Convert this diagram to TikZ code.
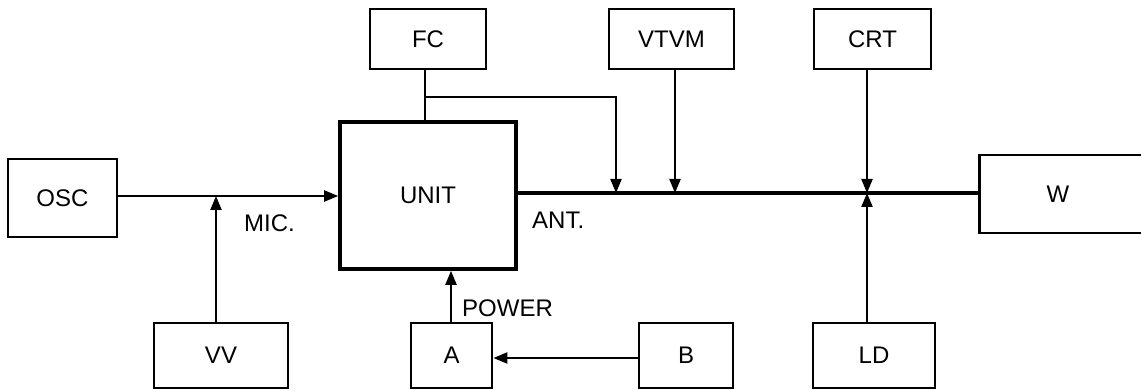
\documentclass[tikz,border=0pt]{standalone}
\usepackage{fontspec}
\setmainfont{Liberation Sans}
\usetikzlibrary{arrows.meta}
\begin{document}
\begin{tikzpicture}[x=1pt,y=-1pt,
  txt/.style={font=\fontsize{24}{28}\selectfont},
  box/.style={draw, line width=2.8pt, inner sep=0pt, txt},
  lbl/.style={inner sep=0pt, anchor=west, txt},
  conn/.style={line width=2.2pt},
  arr/.style={conn, -{Triangle[length=14pt,width=11pt]}},
]
\useasboundingbox (0,0) rectangle (1141,390);
% boxes
\node[box, minimum width=109pt, minimum height=78pt] (osc) at (62.5,198) {OSC};
\node[box, minimum width=116pt, minimum height=60pt] (fc) at (428,39) {FC};
\node[box, line width=3.6pt, minimum width=176pt, minimum height=147pt] (unit) at (428,195.5) {UNIT};
\node[box, minimum width=125pt, minimum height=60pt] (vtvm) at (671.5,39) {VTVM};
\node[box, minimum width=117pt, minimum height=60pt] (crt) at (872.5,39) {CRT};
\node[box, minimum width=175pt, minimum height=78pt, anchor=west] (w) at (978,194) {};
\node[txt, inner sep=0pt] (wl) at (1058,194) {W};
\node[box, minimum width=134pt, minimum height=65pt] (vv) at (221,355.5) {VV};
\node[box, minimum width=81pt, minimum height=65pt] (a) at (451.5,355.5) {A};
\node[box, minimum width=94pt, minimum height=65pt] (b) at (686,355.5) {B};
\node[box, minimum width=122pt, minimum height=65pt] (ld) at (874,355.5) {LD};
% labels
\node[lbl] (mic) at (244,223) {MIC.};
\node[lbl] (power) at (462,308) {POWER};
\node[lbl] (ant) at (532,220) {ANT.};
% junction coordinates
\coordinate (vvj) at (216,196);
\coordinate (fcb) at (425,69);
\coordinate (fcu) at (425,122);
\coordinate (fcj) at (425,97);
\coordinate (fck) at (616,97);
\coordinate (fcm) at (616,193);
\coordinate (vtj) at (675,193);
\coordinate (crj) at (867,193);
% connectors
\draw[arr] (osc.east |- 0,196) -- (unit.west |- 0,196);
\draw[arr] (vv.north -| vvj) -- (vvj);
\draw[conn] (fcb) -- (fcu);
\draw[arr] (fcj) -- (fck) -- (fcm);
\draw[arr] (vtvm.south -| vtj) -- (vtj);
\draw[arr] (crt.south -| crj) -- (crj);
\draw[arr] (ld.north -| crj) -- (crj);
\draw[arr] (a.north -| 451,0) -- (unit.south -| 451,0);
\draw[arr] (b.west |- 0,358) -- (a.east |- 0,358);
\draw[line width=3.2pt] (unit.east |- 0,193) -- (w.west |- 0,193);
\end{tikzpicture}
\end{document}
